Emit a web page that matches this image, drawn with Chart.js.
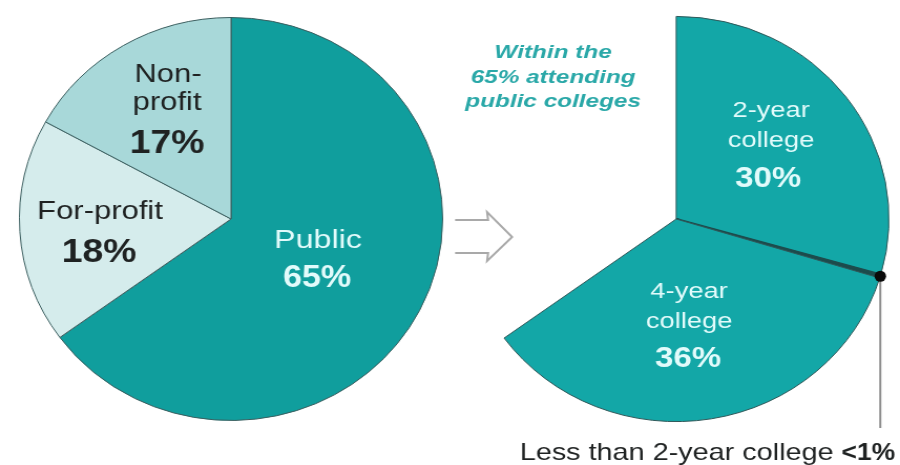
<!DOCTYPE html>
<html>
<head>
<meta charset="utf-8">
<script src="https://cdn.jsdelivr.net/npm/chart.js@4.4.1/dist/chart.umd.min.js"></script>
<style>
  html, body { margin: 0; padding: 0; background: #ffffff; overflow: hidden; }
  #stage { position: relative; width: 900px; height: 465px; }
  #stage canvas { position: absolute; left: 0; top: 0; transform-origin: 0 0; }
</style>
</head>
<body>
<div id="stage">
  <canvas id="sectorPie"></canvas>
  <canvas id="publicPie"></canvas>
</div>
<script>
// Enrollment by sector (percent of all students)
const sectorLabels = ['Public', 'For-profit', 'Non-profit'];
const sectorShares = [65, 18, 17];

// Breakdown of the public share by type of college
const publicLabels = ['2-year college', 'Less than 2-year college', '4-year college'];
const publicShares = [30, 0.3, 36];
const publicShareText = ['30%', '<1%', '36%'];

// Both canvases are drawn slightly narrow and widened on screen
const STRETCH = 1.05;
const W = Math.round(900 / STRETCH), H = 465;
const FONT = '"Liberation Sans", Arial, Helvetica, sans-serif';
const TEAL_L = '#109e9d', TEAL_R = '#13a7a7';
const EDGE = '#3b5e5f';
const LIGHT_TEXT = '#e2fbfb', DARK_TEXT = '#1f2222';

for (const id of ['sectorPie', 'publicPie']) {
  const c = document.getElementById(id);
  c.width = W; c.height = H;
  c.style.transform = 'scaleX(' + (900 / W) + ')';
}

// Text helper: x, y are screen pixels; sx is the total horizontal stretch of the glyphs
function putText(ctx, text, x, y, size, weight, color, sx, align) {
  ctx.save();
  ctx.translate(x / STRETCH, y);
  ctx.scale(sx / STRETCH, 1);
  ctx.font = weight + ' ' + size + 'px ' + FONT;
  ctx.fillStyle = color;
  ctx.textAlign = align || 'center';
  ctx.textBaseline = 'alphabetic';
  ctx.fillText(text, 0, 0);
  ctx.restore();
}
function textWidth(ctx, text, size, weight, sx) {
  ctx.save();
  ctx.font = weight + ' ' + size + 'px ' + FONT;
  const w = ctx.measureText(text).width * sx;
  ctx.restore();
  return w;
}
const REG = 1.24, BOLD = 1.1;

const sectorText = {
  id: 'sectorText',
  afterDraw(chart) {
    const ctx = chart.ctx;
    // Public
    putText(ctx, sectorLabels[0], 318, 248, 26, 'normal', LIGHT_TEXT, REG);
    putText(ctx, sectorShares[0] + '%', 317, 287, 31, 'bold', LIGHT_TEXT, BOLD);
    // For-profit
    putText(ctx, sectorLabels[1], 100, 219, 25, 'normal', DARK_TEXT, REG);
    putText(ctx, sectorShares[1] + '%', 99, 262, 34, 'bold', DARK_TEXT, BOLD);
    // Non-profit, split over two lines
    putText(ctx, 'Non-', 168, 82, 25, 'normal', DARK_TEXT, REG);
    putText(ctx, 'profit', 167, 110, 25, 'normal', DARK_TEXT, REG);
    putText(ctx, sectorShares[2] + '%', 167, 153, 34, 'bold', DARK_TEXT, BOLD);

    // Hollow arrow pointing to the breakdown
    ctx.save();
    ctx.strokeStyle = '#a9a9a9';
    ctx.lineWidth = 2;
    ctx.lineJoin = 'miter';
    ctx.beginPath();
    const p = (x, y) => [x / STRETCH, y];
    ctx.moveTo(...p(455, 220));
    ctx.lineTo(...p(488, 220));
    ctx.lineTo(...p(487, 212));
    ctx.lineTo(...p(512, 237));
    ctx.lineTo(...p(487, 261));
    ctx.lineTo(...p(488, 253));
    ctx.lineTo(...p(455, 253));
    ctx.stroke();
    ctx.restore();
  }
};

const publicText = {
  id: 'publicText',
  afterDraw(chart) {
    const ctx = chart.ctx;
    // Heading over the breakdown
    const head = ['Within the', sectorShares[0] + '% attending', 'public colleges'];
    const hy = [58, 83, 107];
    head.forEach((t, i) => putText(ctx, t, 553, hy[i], 19, 'italic bold', '#2aa8a8', 1.28));

    // Slice labels
    putText(ctx, '2-year', 771, 117, 22, 'normal', LIGHT_TEXT, REG);
    putText(ctx, 'college', 771, 147, 22, 'normal', LIGHT_TEXT, REG);
    putText(ctx, publicShareText[0], 768, 187, 30, 'bold', LIGHT_TEXT, BOLD);
    putText(ctx, '4-year', 689, 298, 22, 'normal', LIGHT_TEXT, REG);
    putText(ctx, 'college', 689, 328, 22, 'normal', LIGHT_TEXT, REG);
    putText(ctx, publicShareText[2], 688, 367, 30, 'bold', LIGHT_TEXT, BOLD);

    // Callout for the thin slice
    const arc = chart.getDatasetMeta(0).data[1];
    const mid = (arc.startAngle + arc.endAngle) / 2;
    const dx = arc.x + Math.cos(mid) * arc.outerRadius;
    const dy = arc.y + Math.sin(mid) * arc.outerRadius;
    ctx.save();
    ctx.strokeStyle = '#8c8c8c';
    ctx.lineWidth = 2;
    ctx.beginPath();
    ctx.moveTo(dx, dy);
    ctx.lineTo(dx, 428);
    ctx.stroke();
    ctx.fillStyle = '#0a0a0a';
    ctx.beginPath();
    ctx.arc(dx, dy, 5.5, 0, Math.PI * 2);
    ctx.fill();
    ctx.restore();

    const right = 895;
    const boldPart = publicShareText[1];
    const regPart = publicLabels[1] + ' ';
    const wb = textWidth(ctx, boldPart, 24, 'bold', 1.1);
    putText(ctx, boldPart, right - wb, 460, 24, 'bold', DARK_TEXT, 1.1, 'left');
    const wr = textWidth(ctx, regPart, 24, 'normal', 1.2);
    putText(ctx, regPart, right - wb - wr, 460, 24, 'normal', DARK_TEXT, 1.2, 'left');
  }
};

const common = {
  responsive: false,
  animation: false,
  events: [],
  plugins: { legend: { display: false }, tooltip: { enabled: false } }
};

new Chart(document.getElementById('sectorPie'), {
  type: 'pie',
  data: {
    labels: sectorLabels,
    datasets: [{
      data: sectorShares,
      backgroundColor: [TEAL_L, '#d5ecec', '#a8d8d9'],
      borderColor: EDGE,
      borderWidth: 1
    }]
  },
  options: Object.assign({}, common, {
    layout: { padding: { top: 17, bottom: 44, left: 18, right: W - 18 - 404 } }
  }),
  plugins: [sectorText]
});

new Chart(document.getElementById('publicPie'), {
  type: 'pie',
  data: {
    labels: publicLabels,
    datasets: [{
      data: publicShares,
      backgroundColor: [TEAL_R, '#1c4c4d', TEAL_R],
      borderColor: ['#2f5859', '#1c4c4d', '#2f5859'],
      borderWidth: [1, 2, 1]
    }]
  },
  options: Object.assign({}, common, {
    // the public share of the whole, spread over the matching part of a circle
    circumference: 360 * sectorShares[0] / 100,
    layout: { padding: { top: 15, bottom: 42, left: 479, right: 9.5 } }
  }),
  plugins: [publicText]
});
</script>
</body>
</html>
